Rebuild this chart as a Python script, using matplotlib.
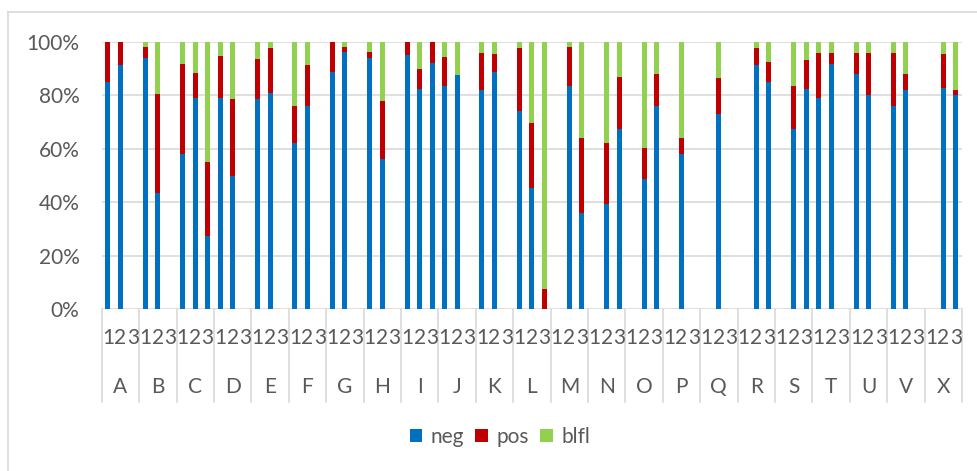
import numpy as np
import matplotlib
matplotlib.use("Agg")
import matplotlib.pyplot as plt
from matplotlib.ticker import PercentFormatter
from matplotlib.patches import Patch
from matplotlib.lines import Line2D

groups = ["A", "B", "C", "D", "E", "F", "G", "H", "I", "J", "K", "L",
          "M", "N", "O", "P", "Q", "R", "S", "T", "U", "V", "X"]
subs = ["1", "2", "3"]

# shares in %, three entries per group (0 = no bar)
neg = [85.0, 91.5, 0,    94.1, 43.3, 0,    58.2, 79.2, 27.4, 78.9, 50.0, 0,
       78.7, 81.0, 0,    62.0, 76.2, 0,    88.7, 96.1, 0,    94.1, 56.0, 0,
       95.0, 82.5, 92.0, 83.4, 87.5, 0,    82.2, 88.7, 0,    74.1, 45.5, 0,
       0, 83.4, 35.9,    0, 39.5, 67.3,    0, 48.8, 76.2,    0, 58.1, 0,
       0, 72.9, 0,       0, 91.3, 85.2,    0, 67.3, 82.3,    79.2, 91.9, 0,
       88.2, 80.0, 0,    75.9, 82.2, 0,    0, 82.7, 80.0]
pos = [15.0, 8.5, 0,     3.9, 37.1, 0,     33.6, 9.2, 27.6,  15.9, 28.6, 0,
       14.8, 16.6, 0,    13.9, 15.2, 0,    11.3, 2.0, 0,     2.0, 21.9, 0,
       5.0, 7.5, 8.0,    11.0, 0, 0,       13.8, 6.7, 0,     23.7, 24.1, 7.5,
       0, 14.6, 28.1,    0, 22.5, 19.5,    0, 11.5, 12.0,    0, 5.9, 0,
       0, 13.6, 0,       0, 6.5, 7.3,      0, 16.4, 11.1,    16.7, 4.0, 0,
       7.8, 16.0, 0,     20.1, 5.8, 0,     0, 12.9, 1.9]
blfl = [0, 0, 0,         2.0, 19.6, 0,     8.2, 11.6, 45.0,  5.2, 21.4, 0,
        6.5, 2.4, 0,     24.1, 8.6, 0,     0, 1.9, 0,        3.9, 22.1, 0,
        0, 10.0, 0,      5.6, 12.5, 0,     4.0, 4.6, 0,      2.2, 30.4, 92.5,
        0, 2.0, 36.0,    0, 38.0, 13.2,    0, 39.7, 11.8,    0, 36.0, 0,
        0, 13.5, 0,      0, 2.2, 7.5,      0, 16.3, 6.6,     4.1, 4.1, 0,
        4.0, 4.0, 0,     4.0, 12.0, 0,     0, 4.4, 18.1]

series = [("neg", neg, "#0070C0"), ("pos", pos, "#C00000"), ("blfl", blfl, "#92D050")]

plt.rcParams["font.family"] = ["Lato", "DejaVu Sans"]
text_color = "#595959"
grid_color = "#D9D9D9"

fig = plt.figure(figsize=(9.78, 4.71), dpi=100)
ax = fig.add_axes([101.7 / 978, 1 - 309 / 471, (962 - 101.7) / 978, 267 / 471])

x = np.arange(len(groups) * len(subs))
bottom = np.zeros(len(x))
for name, vals, color in series:
    v = np.array(vals, dtype=float)
    ax.bar(x, v, width=0.4, bottom=bottom, color=color, linewidth=0, zorder=3)
    bottom += v

ax.set_xlim(-0.5, len(x) - 0.5)
ax.set_ylim(0, 100)
ax.set_yticks(np.arange(0, 101, 20))
ax.yaxis.set_major_formatter(PercentFormatter(decimals=0))
ax.grid(axis="y", color=grid_color, linewidth=1.2, zorder=0)
ax.tick_params(axis="y", length=0, pad=16, labelsize=15, labelcolor=text_color)
ax.set_xticks([])
for s in ax.spines.values():
    s.set_visible(False)

# two-level category axis: one sub label per bar slot, group name below
trans = ax.get_xaxis_transform()
for i in x:
    ax.text(i, -0.109, subs[i % 3], transform=trans, ha="center", va="center",
            fontsize=15, color=text_color)
for g, name in enumerate(groups):
    ax.text(3 * g + 1, -0.292, name, transform=trans, ha="center", va="center",
            fontsize=15, color=text_color)
for b in range(len(groups) + 1):
    ax.add_line(Line2D([3 * b - 0.5] * 2, [0, -0.348], transform=trans,
                       color=grid_color, linewidth=1.2, clip_on=False))

handles = [Patch(facecolor=c, label=n) for n, _, c in series]
fig.legend(handles=handles, loc="center", bbox_to_anchor=(0.511, 1 - 437 / 471),
           ncol=3, frameon=False, fontsize=15, labelcolor=text_color,
           handlelength=0.6, handleheight=0.6, handletextpad=0.4, columnspacing=0.55)

# chart area border
fig.add_artist(Line2D([8 / 978, 1], [1 - 12 / 471] * 2, transform=fig.transFigure,
                      color=grid_color, linewidth=1.2))
fig.add_artist(Line2D([8 / 978] * 2, [0, 1 - 12 / 471], transform=fig.transFigure,
                      color=grid_color, linewidth=1.2))

fig.savefig("out.png", dpi=100)
